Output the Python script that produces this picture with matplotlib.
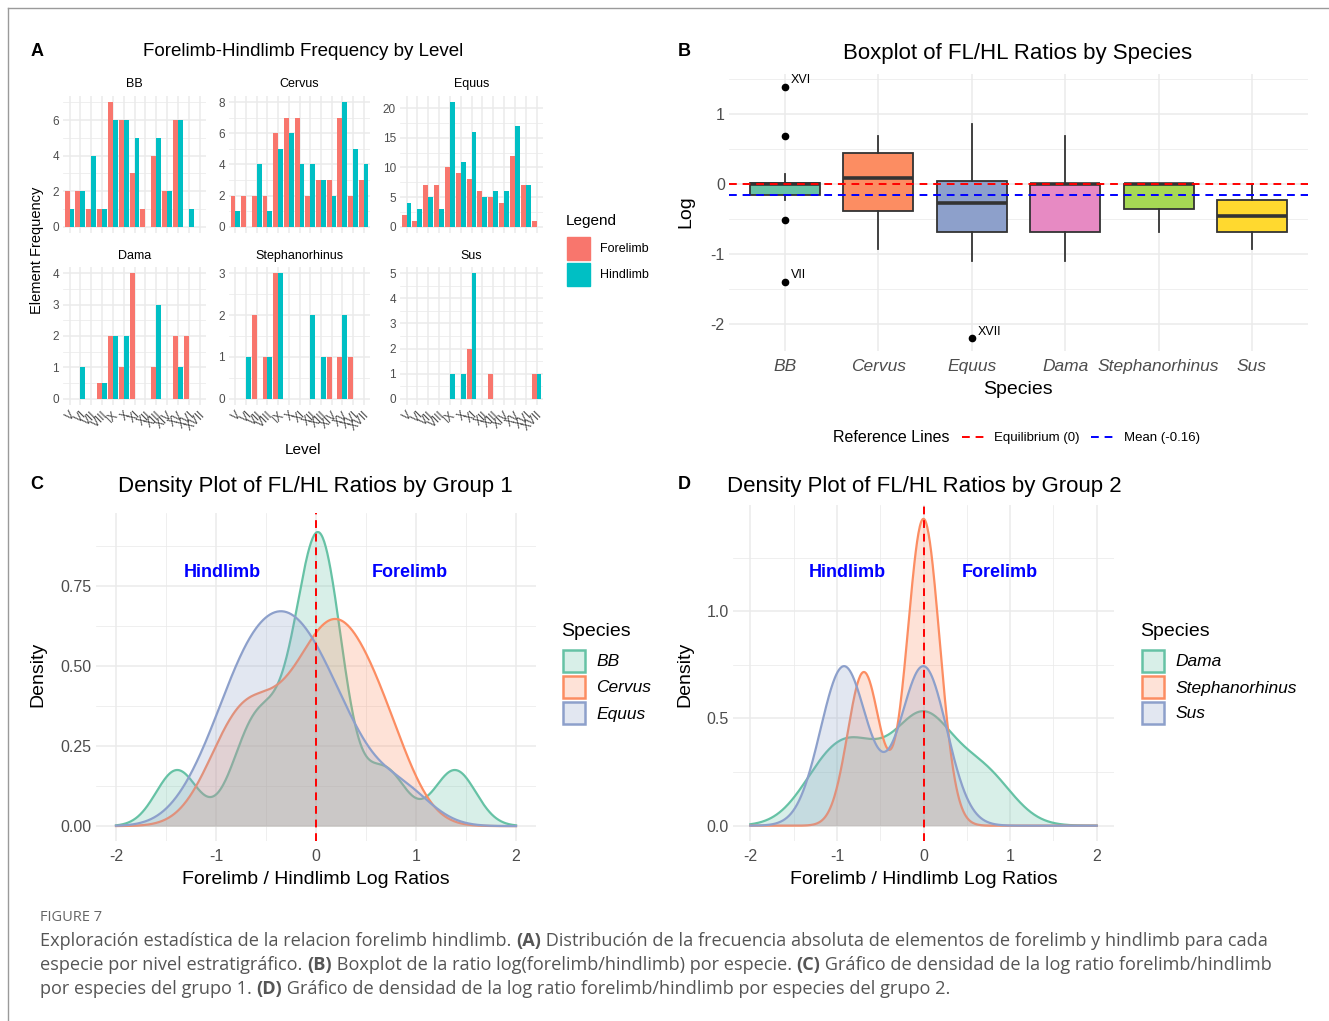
import numpy as np
import matplotlib
matplotlib.use("Agg")
import matplotlib.pyplot as plt
from matplotlib.patches import Rectangle
from matplotlib.lines import Line2D
from matplotlib.ticker import MultipleLocator

plt.rcParams['font.family'] = ['Liberation Sans', 'DejaVu Sans']
plt.rcParams['axes.unicode_minus'] = False

W, H = 1329, 1021

# ---- data: panel A (counts per stratigraphic level) ----
levels = ["V", "VI", "VII", "VIII", "IX", "X", "XI", "XII", "XIII", "XIV", "XV", "XVI", "XVII"]
facet_names = ["BB", "Cervus", "Equus", "Dama", "Stephanorhinus", "Sus"]
bb_fore = [2, 2, 1, 1, 7, 6, 3, 1, 4, 2, 6, 0, 0]
bb_hind = [1, 2, 4, 1, 6, 6, 5, 0, 5, 2, 6, 1, 0]
cervus_fore = [2, 2, 2, 2, 6, 7, 7, 2, 3, 3, 7, 2, 3]
cervus_hind = [1, 0, 4, 1, 5, 6, 4, 4, 3, 2, 8, 5, 4]
equus_fore = [2, 1, 7, 7, 10, 9, 8, 6, 5, 4, 12, 7, 1]
equus_hind = [4, 3, 5, 3, 21, 11, 16, 5, 6, 6, 17, 7, 0]
dama_fore = [0, 0, 0, 0.5, 2, 1, 4, 0, 1, 0, 2, 2, 0]
dama_hind = [0, 1, 0, 0.5, 2, 2, 0, 0, 3, 0, 1, 0, 0]
steph_fore = [0, 0, 2, 1, 3, 0, 0, 0, 0, 1, 1, 1, 0]
steph_hind = [0, 1, 0, 1, 3, 0, 0, 2, 1, 0, 2, 0, 0]
sus_fore = [0, 0, 0, 0, 0, 0, 2, 0, 1, 0, 0, 0, 1]
sus_hind = [0, 0, 0, 0, 1, 1, 5, 0, 0, 0, 0, 0, 1]

# ---- data: panel B (boxplot stats of log ratios) ----
species = ["BB", "Cervus", "Equus", "Dama", "Stephanorhinus", "Sus"]
box_q1 = [-0.16, -0.39, -0.69, -0.69, -0.35, -0.69]
box_med = [0.0, 0.08, -0.27, 0.0, 0.0, -0.46]
box_q3 = [0.01, 0.45, 0.04, 0.0, 0.0, -0.23]
box_lo = [-0.22, -0.92, -1.10, -1.10, -0.69, -0.92]
box_hi = [0.15, 0.69, 0.85, 0.69, 0.0, 0.0]
box_fliers = [[1.39, 0.69, -0.51, -1.39], [], [-2.20], [], [], []]
flier_labels = [("BB", 1.39, "XVI"), ("BB", -1.39, "VII"), ("Equus", -2.20, "XVII")]
mean_log = -0.16

# ---- data: panels C/D (log ratios per species) ----
bb_log = [-1.39, -0.69, -0.51, -0.22, 0, 0, 0, 0.12, 0.15, 0.69, 1.39]
cervus_log = [-0.92, -0.69, -0.69, -0.35, -0.13, 0, 0.15, 0.18, 0.3, 0.41, 0.69, 0.69]
equus_log = [-0.69, -1.10, 0.34, 0.85, -0.74, -0.20, -0.69, 0.18, -0.18, -0.41, -0.35, 0]
dama_log = [0, 0, -0.69, -1.10, 0.69]
steph_log = [0, 0, -0.69]
sus_log = [-0.92, 0]

red_c, cyan_c = "#F8766D", "#00BFC4"
set2 = ["#66C2A5", "#FC8D62", "#8DA0CB", "#E78AC3", "#A6D854", "#FFD92F"]
grid_c = "#EBEBEB"
tick_c = "#4D4D4D"

fig = plt.figure(figsize=(W / 100, H / 100), dpi=100)


def add_ax(l, t, r, b):
    return fig.add_axes([l / W, 1 - b / H, (r - l) / W, (b - t) / H])


def ftext(x, y, s, **kw):
    return fig.text(x / W, 1 - y / H, s, **kw)


def style(ax, ts):
    for s in ax.spines.values():
        s.set_visible(False)
    ax.grid(True, which='major', color=grid_c, lw=1.1, zorder=0)
    ax.grid(True, which='minor', color=grid_c, lw=0.55, zorder=0)
    ax.set_axisbelow(True)
    ax.tick_params(which='both', length=0, labelsize=ts, labelcolor=tick_c, pad=3)


# frame
fig.add_artist(Line2D([8 / W, 1], [1 - 8 / H, 1 - 8 / H], color="#9A9A9A", lw=1.0))
fig.add_artist(Line2D([8 / W, 8 / W], [0, 1 - 8 / H], color="#9A9A9A", lw=1.0))

# ================= Panel A =================
ftext(37, 52, "A", fontsize=13, weight='bold', va='center', ha='center')
ftext(303, 52, "Forelimb-Hindlimb Frequency by Level", fontsize=13.5, va='center', ha='center')

fore_all = [bb_fore, cervus_fore, equus_fore, dama_fore, steph_fore, sus_fore]
hind_all = [bb_hind, cervus_hind, equus_hind, dama_hind, steph_hind, sus_hind]
y_steps = [2, 2, 5, 1, 1, 1]
cols_px = [(63, 206), (229, 370), (400, 543)]
rows_px = [(96, 233), (267, 405)]
x = np.arange(1, len(levels) + 1)
for i, name in enumerate(facet_names):
    r, c = divmod(i, 3)
    l, rr = cols_px[c]
    t, b = rows_px[r]
    ax = add_ax(l, t, rr, b)
    style(ax, 8.5)
    ax.bar(x - 0.225, fore_all[i], width=0.45, color=red_c, zorder=2)
    ax.bar(x + 0.225, hind_all[i], width=0.45, color=cyan_c, zorder=2)
    m = max(max(fore_all[i]), max(hind_all[i]))
    ax.set_ylim(-0.05 * m, 1.05 * m)
    ax.set_xlim(0.4, len(levels) + 0.6)
    ax.yaxis.set_major_locator(MultipleLocator(y_steps[i]))
    ax.yaxis.set_minor_locator(MultipleLocator(y_steps[i] / 2))
    ax.set_xticks(x)
    ax.grid(False, axis='x', which='minor')
    if r == 1:
        ax.set_xticklabels(levels, rotation=45, ha='right', rotation_mode='anchor', fontsize=8.5)
    else:
        ax.set_xticklabels([])
    ftext((l + rr) / 2, t - 12 if r == 0 else t - 11, name, fontsize=9, ha='center', va='center')

ftext(37, 250, "Element Frequency", fontsize=10.5, rotation=90, ha='center', va='center')
ftext(303, 450, "Level", fontsize=11, ha='center', va='center')
ftext(566, 221, "Legend", fontsize=11, ha='left', va='center')
for k, (lab, colr) in enumerate([("Forelimb", red_c), ("Hindlimb", cyan_c)]):
    y0 = 237 + 26 * k
    fig.add_artist(Rectangle((567 / W, 1 - (y0 + 23) / H), 23 / W, 23 / H, color=colr, transform=fig.transFigure))
    ftext(600, y0 + 12, lab, fontsize=9, ha='left', va='center')

# ================= Panel B =================
ftext(684, 52, "B", fontsize=13, weight='bold', va='center', ha='center')
ftext(1018, 54, "Boxplot of FL/HL Ratios by Species", fontsize=16, va='center', ha='center')
axb = add_ax(729, 74, 1308, 351)
style(axb, 11.5)
stats = []
for i, sp in enumerate(species):
    stats.append(dict(label=sp, q1=box_q1[i], med=box_med[i], q3=box_q3[i],
                      whislo=box_lo[i], whishi=box_hi[i], fliers=box_fliers[i]))
bp = axb.bxp(stats, positions=np.arange(1, 7), widths=0.75, patch_artist=True, showcaps=False,
             boxprops=dict(edgecolor="#333333", lw=1.3),
             medianprops=dict(color="#333333", lw=2.6),
             whiskerprops=dict(color="#333333", lw=1.3),
             flierprops=dict(marker='o', markerfacecolor='black', markeredgecolor='black', markersize=4.5))
for patch, colr in zip(bp['boxes'], set2):
    patch.set_facecolor(colr)
axb.axhline(0, color='red', ls=(0, (4, 3)), lw=1.4, zorder=5)
axb.axhline(mean_log, color='blue', ls=(0, (4, 3)), lw=1.4, zorder=5)
for sp, yv, lab in flier_labels:
    xp = species.index(sp) + 1
    axb.annotate(lab, (xp, yv), xytext=(4, 0.5), textcoords='offset points', fontsize=9, ha='left', va='bottom')
axb.set_xlim(0.4, 6.6)
axb.set_ylim(-2.38, 1.57)
axb.yaxis.set_major_locator(MultipleLocator(1))
axb.yaxis.set_minor_locator(MultipleLocator(0.5))
axb.grid(False, axis='x', which='minor')
axb.set_xticks(np.arange(1, 7))
axb.set_xticklabels(species, fontstyle='italic', fontsize=12.5)
axb.tick_params(axis='x', pad=6)
ftext(1018, 389, "Species", fontsize=14, ha='center', va='center')
ftext(686, 212, "Log", fontsize=14, rotation=90, ha='center', va='center')
ftext(833, 438, "Reference Lines", fontsize=11.5, ha='left', va='center')
fig.add_artist(Line2D([962 / W, 985 / W], [1 - 437 / H] * 2, color='red', ls=(0, (4, 3)), lw=1.4))
ftext(994, 438, "Equilibrium (0)", fontsize=9.5, ha='left', va='center')
fig.add_artist(Line2D([1091 / W, 1114 / W], [1 - 437 / H] * 2, color='blue', ls=(0, (4, 3)), lw=1.4))
ftext(1124, 438, "Mean (-0.16)", fontsize=9.5, ha='left', va='center')


# ================= Panels C / D =================
def nrd0(v):
    v = np.asarray(v, float)
    hi = np.std(v, ddof=1)
    q75, q25 = np.percentile(v, [75, 25])
    lo = min(hi, (q75 - q25) / 1.34)
    if lo == 0:
        lo = hi if hi > 0 else 1.0
    return 0.9 * lo * len(v) ** -0.2


def density(v, grid):
    v = np.asarray(v, float)
    bw = nrd0(v)
    z = (grid[:, None] - v[None, :]) / bw
    return np.exp(-0.5 * z ** 2).sum(axis=1) / (len(v) * bw * np.sqrt(2 * np.pi))


grid = np.linspace(-2, 2, 512)


def density_panel(box, letter, title, lpos, groups, names, tpos, labpos, ytick_step, ylim, leg_x):
    l, t, r, b = box
    ftext(lpos[0], lpos[1], letter, fontsize=13, weight='bold', va='center', ha='center')
    ftext(tpos, 486, title, fontsize=16, va='center', ha='center')
    ax = add_ax(l, t, r, b)
    style(ax, 11.5)
    dens = [density(g, grid) for g in groups]
    for k, d in enumerate(dens):
        ax.fill_between(grid, 0, d, color=set2[k], alpha=0.25, lw=0, zorder=2 + k)
        ax.plot(grid, d, color=set2[k], lw=1.6, zorder=2 + k)
    ax.axvline(0, color='red', ls=(0, (4, 3)), lw=1.4, zorder=10)
    ax.set_xlim(-2.2, 2.2)
    ax.set_ylim(*ylim)
    ax.xaxis.set_major_locator(MultipleLocator(1))
    ax.xaxis.set_minor_locator(MultipleLocator(0.5))
    ax.yaxis.set_major_locator(MultipleLocator(ytick_step))
    ax.yaxis.set_minor_locator(MultipleLocator(ytick_step / 2))
    ax.tick_params(axis='x', pad=6)
    ax.text(-labpos[0], labpos[1], "Hindlimb", color='blue', weight='bold', fontsize=13, ha='center', va='center', zorder=11)
    ax.text(labpos[0], labpos[1], "Forelimb", color='blue', weight='bold', fontsize=13, ha='center', va='center', zorder=11)
    ftext((l + r) / 2, 879, "Forelimb / Hindlimb Log Ratios", fontsize=14, ha='center', va='center')
    ftext(lpos[0] + 1, 674, "Density", fontsize=14, rotation=90, ha='center', va='center')
    ftext(leg_x, 632, "Species", fontsize=14, ha='left', va='center')
    for k, nm in enumerate(names):
        y0 = 650 + 26 * k
        fig.add_artist(Rectangle(((leg_x + 2) / W, 1 - (y0 + 22) / H), 22 / W, 22 / H,
                                 facecolor=matplotlib.colors.to_rgba(set2[k], 0.25),
                                 edgecolor=set2[k], lw=1.8, transform=fig.transFigure))
        ftext(leg_x + 35, y0 + 12, nm, fontsize=12.5, fontstyle='italic', ha='left', va='center')
    return ax


density_panel((96, 513, 536, 841), "C", "Density Plot of FL/HL Ratios by Group 1", (37, 484),
              [bb_log, cervus_log, equus_log], ["BB", "Cervus", "Equus"], 315, (0.94, 0.79), 0.25,
              (-0.0465, 0.977), 561)
density_panel((733, 505, 1114, 841), "D", "Density Plot of FL/HL Ratios by Group 2", (684, 484),
              [dama_log, steph_log, sus_log], ["Dama", "Stephanorhinus", "Sus"], 924, (0.876, 1.18), 0.5,
              (-0.0715, 1.495), 1140)

# ================= Caption =================
cap_c = "#555555"
ftext(40, 917, "FIGURE 7", fontsize=10.5, color="#666666", family='Open Sans', ha='left', va='center')
caption = [
    [("Exploración estadística de la relacion forelimb hindlimb. ", False), ("(A)", True),
     (" Distribución de la frecuencia absoluta de elementos de forelimb y hindlimb para cada", False)],
    [("especie por nivel estratigráfico. ", False), ("(B)", True),
     (" Boxplot de la ratio log(forelimb/hindlimb) por especie. ", False), ("(C)", True),
     (" Gráfico de densidad de la log ratio forelimb/hindlimb", False)],
    [("por especies del grupo 1. ", False), ("(D)", True),
     (" Gráfico de densidad de la log ratio forelimb/hindlimb por especies del grupo 2.", False)],
]
renderer = fig.canvas.get_renderer()
for li, parts in enumerate(caption):
    xc = 40
    yc = 941 + 24 * li
    for txt, bold in parts:
        t = ftext(xc, yc, txt, fontsize=13.1, color=cap_c, family='Open Sans',
                  weight='bold' if bold else 'normal', ha='left', va='center')
        xc += t.get_window_extent(renderer=renderer).width

fig.savefig("out.png", dpi=100)
